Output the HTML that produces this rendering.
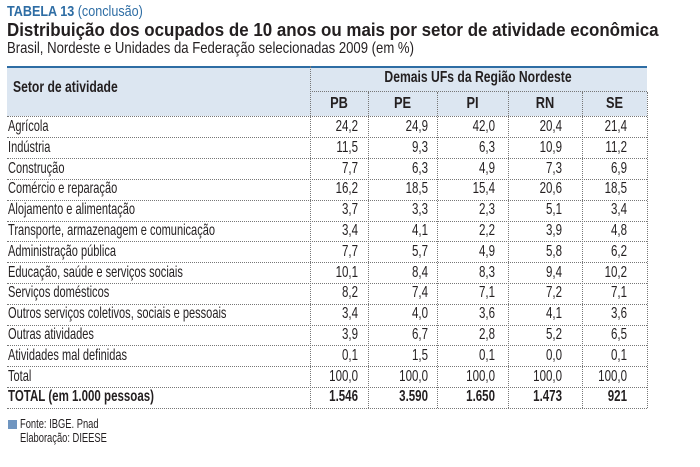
<!DOCTYPE html>
<html><head><meta charset="utf-8"><style>
body{margin:0;width:700px;height:467px;background:#fff;position:relative;overflow:hidden;font-family:"Liberation Sans",sans-serif;color:#231f20}
.a{position:absolute;white-space:nowrap;transform-origin:0 0}
.t1{left:7px;top:3px;font-size:15px;font-weight:bold;color:#2e6da4;transform:scaleX(0.84)}
.t1 span{font-weight:normal}
.t2{left:7px;top:20px;font-size:18px;font-weight:bold;transform:scaleX(0.94)}
.t3{left:7px;top:40px;font-size:16px;transform:scaleX(0.82)}
.hd{position:absolute;left:7px;top:66px;width:640px;height:50px;background:#dce6f1;border-top:2px solid #2e6da4;box-sizing:border-box}
.vl{position:absolute;border-left:1px dotted #777;top:66px;height:342px}
.hl{position:absolute;border-top:1px dotted #777;height:0}
.c{position:absolute;font-size:16px;text-align:right;width:60px;transform:scaleX(0.72);transform-origin:100% 0}
.l{position:absolute;left:8px;font-size:16px;white-space:nowrap;transform:scaleX(0.69);transform-origin:0 0}
.b{font-weight:bold}
.l.b{transform:scaleX(0.72)}
</style></head><body>
<div class="a t1">TABELA 13 <span>(conclusão)</span></div>
<div class="a t2">Distribuição dos ocupados de 10 anos ou mais por setor de atividade econômica</div>
<div class="a t3">Brasil, Nordeste e Unidades da Federação selecionadas 2009 (em %)</div>
<div class="hd"></div>
<div class="a b" style="left:13px;top:79px;font-size:16px;transform:scaleX(0.76)">Setor de atividade</div>
<div class="a b" style="left:478px;top:69px;font-size:16px;transform:translateX(-50%) scaleX(0.76);transform-origin:50% 0">Demais UFs da Região Nordeste</div>
<div class="hl" style="left:310px;width:337px;top:91px"></div>
<div id="rows"></div>
<script>
var bounds=[310,368,437,508,582,647],pad=[10,9,13,20,20];
var h=['PB','PE','PI','RN','SE'];
var html='';
for(var i=0;i<6;i++){html+='<div class="vl" style="left:'+bounds[i]+'px;'+(i==0?'':'top:92px;height:316px')+'"></div>';}
for(var i=0;i<5;i++){html+='<div class="a b" style="left:'+bounds[i]+'px;width:'+(bounds[i+1]-bounds[i])+'px;text-align:center;top:95px;font-size:16px;transform:scaleX(0.8);transform-origin:50% 0">'+h[i]+'</div>';}
var d=[["Agrícola","24,2","24,9","42,0","20,4","21,4"],["Indústria","11,5","9,3","6,3","10,9","11,2"],["Construção","7,7","6,3","4,9","7,3","6,9"],["Comércio e reparação","16,2","18,5","15,4","20,6","18,5"],["Alojamento e alimentação","3,7","3,3","2,3","5,1","3,4"],["Transporte, armazenagem e comunicação","3,4","4,1","2,2","3,9","4,8"],["Administração pública","7,7","5,7","4,9","5,8","6,2"],["Educação, saúde e serviços sociais","10,1","8,4","8,3","9,4","10,2"],["Serviços domésticos","8,2","7,4","7,1","7,2","7,1"],["Outros serviços coletivos, sociais e pessoais","3,4","4,0","3,6","4,1","3,6"],["Outras atividades","3,9","6,7","2,8","5,2","6,5"],["Atividades mal definidas","0,1","1,5","0,1","0,0","0,1"],["Total","100,0","100,0","100,0","100,0","100,0"],["TOTAL (em 1.000 pessoas)","1.546","3.590","1.650","1.473","921"]];
for(var r=0;r<d.length;r++){
 var y=117+r*20.8;var bold=r==13?' b':'';
 html+='<div class="hl" style="left:7px;width:640px;top:'+(y+20.3).toFixed(1)+'px"></div>';
 html+='<div class="l'+bold+'" style="top:'+(y+1).toFixed(1)+'px">'+d[r][0]+'</div>';
 for(var c=0;c<5;c++){html+='<div class="c'+bold+'" style="left:'+(bounds[c+1]-pad[c]-60)+'px;top:'+(y+1).toFixed(1)+'px">'+d[r][c+1]+'</div>';}
}
html+='<div class="hl" style="left:7px;width:640px;top:116px"></div>';
document.getElementById('rows').innerHTML=html;
</script>
<div class="a" style="left:8px;top:420px;width:9px;height:9px;background:#6f95c0"></div>
<div class="a" style="left:20px;top:416px;font-size:13px;transform:scaleX(0.72)">Fonte: IBGE. Pnad</div>
<div class="a" style="left:20px;top:430px;font-size:13px;transform:scaleX(0.72)">Elaboração: DIEESE</div>
</body></html>
